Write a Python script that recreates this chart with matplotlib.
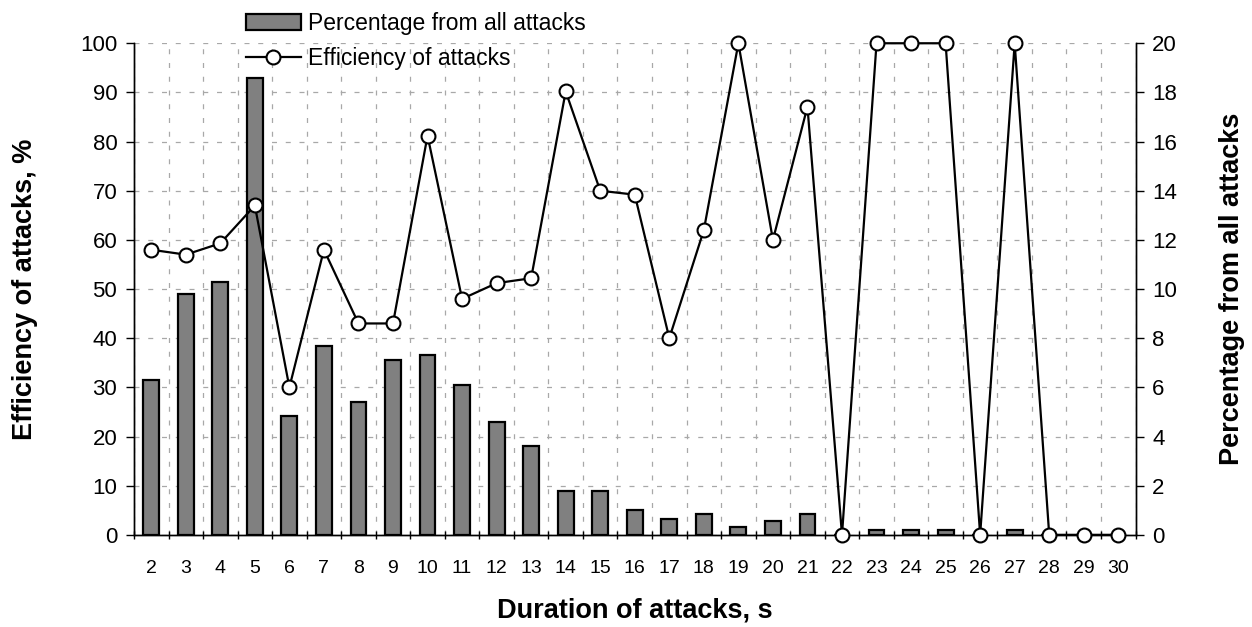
import matplotlib
matplotlib.use("Agg")
import matplotlib.pyplot as plt
import numpy as np

plt.rcParams['font.family'] = ['Liberation Sans', 'DejaVu Sans']

durations = list(range(2, 31))
percentage = [6.3, 9.8, 10.3, 18.6, 4.85, 7.7, 5.4, 7.1, 7.3, 6.1, 4.6, 3.6, 1.8, 1.8,
              1.0, 0.65, 0.84, 0.3, 0.57, 0.84, 0.0, 0.2, 0.2, 0.2, 0.0, 0.2, 0.0, 0.0, 0.0]
efficiency = [58, 57, 59.3, 67, 30, 58, 43, 43, 81.2, 48, 51.2, 52.2, 90.2, 70, 69.2, 40,
              62, 100, 60, 87.1, 0, 100, 100, 100, 0, 100, 0, 0, 0]

fig = plt.figure(figsize=(12.52, 6.27), dpi=100)
ax = fig.add_axes([0.107, 0.147, 0.8, 0.784])
ax2 = ax.twinx()
x = np.arange(len(durations))

grid_kw = dict(color='#a8a8a8', linestyle=(0, (4, 7)), linewidth=0.9)
ax.set_axisbelow(True)
ax.bar(x, percentage, width=0.46, color='#808080', edgecolor='black', linewidth=1.6,
       label='Percentage from all attacks', zorder=2)
ax.set_xlim(-0.5, len(durations) - 0.5)
ax.set_ylim(0, 20)
ax.set_yticks(np.arange(0, 21, 2))
ax.yaxis.tick_right()
ax.yaxis.set_label_position('right')
ax.set_xticks(x)
ax.set_xticklabels([str(d) for d in durations], fontsize=14)
ax.set_xticks(np.arange(-0.5, len(durations), 1), minor=True)
ax.tick_params(axis='x', which='major', length=0, pad=18)
ax.tick_params(axis='x', which='minor', length=6, width=1, direction='inout')
ax.tick_params(axis='y', labelsize=16, length=6, width=1, direction='out', pad=6)
ax.grid(True, axis='y', which='major', **grid_kw)
ax.grid(True, axis='x', which='minor', **grid_kw)
ax.set_ylabel('Percentage from all attacks', fontsize=19.5, fontweight='bold', labelpad=30)
ax.set_xlabel('Duration of attacks, s', fontsize=19.5, fontweight='bold', labelpad=15)

ax2.plot(x, efficiency, color='black', linewidth=1.6, marker='o', markersize=10,
         markerfacecolor='white', markeredgecolor='black', markeredgewidth=1.5,
         label='Efficiency of attacks', clip_on=False, zorder=5)
ax2.set_ylim(0, 100)
ax2.set_yticks(np.arange(0, 101, 10))
ax2.yaxis.tick_left()
ax2.yaxis.set_label_position('left')
ax2.tick_params(axis='y', labelsize=16, length=6, width=1, direction='out', pad=6)
ax2.set_ylabel('Efficiency of attacks, %', fontsize=19.5, fontweight='bold', labelpad=30)

for a in (ax, ax2):
    a.spines['top'].set_visible(False)
    for s in ('left', 'right', 'bottom'):
        a.spines[s].set_linewidth(1.0)

h1, l1 = ax.get_legend_handles_labels()
h2, l2 = ax2.get_legend_handles_labels()
fig.legend(h1 + h2, l1 + l2, loc='upper left', bbox_to_anchor=(0.189, 0.995),
           frameon=False, fontsize=16.5, handlelength=2.4, handleheight=0.7,
           handletextpad=0.3, labelspacing=0.5, borderaxespad=0)

fig.savefig('out.png', dpi=100)
